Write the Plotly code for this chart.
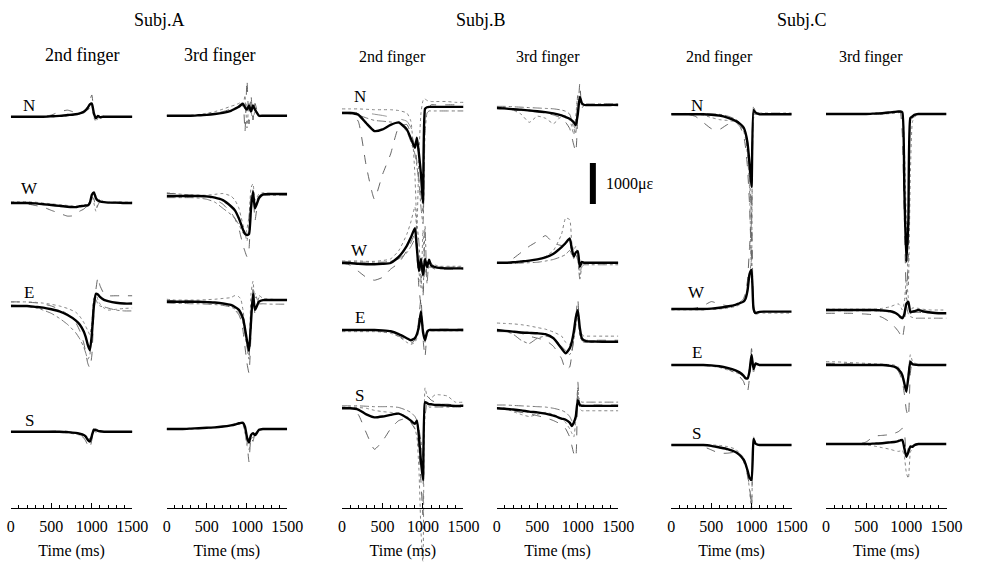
import plotly.graph_objects as go

W_FIG, H_FIG = 987, 562

# ---------------- data (strain in micro-strain, time in ms) ----------------
T = [0, 100, 200, 300, 400, 500, 600, 700, 800, 850, 900, 925, 950, 975,
     1000, 1025, 1050, 1075, 1100, 1150, 1200, 1300, 1400, 1500]

X_TICKS = [0, 500, 1000, 1500]
X_TICK_LABELS = ["0", "500", "1000", "1500"]
SUBJECTS = ["Subj.A", "Subj.B", "Subj.C"]
FINGERS = ["2nd finger", "3rd finger"]
CHANNELS = ["N", "W", "E", "S"]
SCALE_BAR = 1000
SCALE_LABEL = "1000\u03bc\u03b5"
X_TITLE = "Time (ms)"

# Subject A, 2nd finger
A2_N = [0,0,0,0,0,10,20,40,60,80,120,160,220,300,320,80,-40,20,-10,0,0,0,0,0]
A2_N_t1 = [0,0,0,0,10,40,120,160,100,100,130,170,250,400,530,100,-80,40,-40,0,0,0,0,0]
A2_N_t2 = [0,0,0,0,0,0,10,20,40,60,90,120,160,220,260,-20,-120,-40,0,20,0,0,0,0]
A2_W = [0,0,0,-10,-30,-50,-70,-90,-100,-80,-70,-60,-60,0,200,260,120,60,40,20,10,10,0,0]
A2_W_t1 = [0,0,-20,-60,-100,-180,-250,-320,-300,-200,-150,-100,-80,0,150,100,-150,-50,30,0,0,0,0,0]
A2_W_t2 = [30,30,30,20,0,-20,-40,-60,-80,-80,-60,-40,-20,30,200,0,-200,0,100,20,20,20,20,20]
A2_E = [0,0,0,-20,-40,-80,-130,-220,-350,-450,-620,-760,-950,-1080,-700,0,300,280,220,150,120,80,60,60]
A2_E_t1 = [100,100,90,80,50,0,-80,-200,-400,-600,-900,-1150,-1400,-1510,-1200,-200,400,700,500,300,250,250,250,250]
A2_E_t2 = [100,100,100,90,70,40,0,-60,-150,-250,-400,-500,-600,-700,-400,100,300,150,50,-50,-100,-80,-60,-50]
A2_E_t3 = [20,10,0,-40,-100,-180,-300,-450,-650,-800,-1000,-1150,-1300,-1200,-500,200,150,50,0,-20,-50,-100,-120,-120]
A2_S = [0,0,0,0,0,0,0,-10,-30,-50,-80,-120,-200,-240,-100,50,40,20,10,0,0,0,0,0]
A2_S_t1 = [0,0,0,0,0,10,20,10,-40,-80,-150,-230,-330,-400,-200,60,80,20,0,0,0,0,0,0]
A2_S_t2 = [0,0,0,0,0,0,-10,-30,-60,-80,-100,-140,-180,-160,-40,30,-20,0,10,0,0,0,0,0]

# Subject A, 3rd finger
A3_N = [0,0,0,0,10,20,40,70,120,170,220,260,290,200,150,250,100,250,150,0,0,0,0,0]
A3_N_t1 = [0,0,0,0,10,30,60,100,160,200,240,300,300,-390,870,-200,500,-100,300,-30,0,0,0,0]
A3_N_t2 = [0,0,0,10,30,60,100,160,230,260,300,330,200,500,-300,300,100,-100,100,20,0,0,0,0]
A3_W = [0,0,0,0,0,-10,-40,-100,-250,-350,-550,-680,-820,-920,-950,-930,-300,100,-300,-50,40,50,50,50]
A3_W_t1 = [60,60,40,20,0,-20,-80,-200,-400,-550,-800,-1000,-1200,-1350,-1480,-1300,-200,150,-600,0,50,50,50,50]
A3_W_t2 = [80,60,40,30,20,20,40,60,0,-100,-300,-500,-700,-900,-1100,-700,200,300,-100,50,80,60,60,60]
A3_W_t3 = [-40,-40,-40,-40,-50,-80,-150,-300,-450,-550,-700,-800,-900,-950,-800,-500,0,100,-200,0,20,20,20,20]
A3_E = [0,0,0,0,0,-10,-20,-40,-80,-130,-200,-280,-400,-650,-950,-1200,-500,200,-200,0,40,40,40,40]
A3_E_t1 = [30,30,30,20,10,0,-20,-60,-120,-200,-320,-450,-700,-1100,-1500,-1740,-800,300,-300,100,60,40,40,40]
A3_E_t2 = [60,40,40,40,40,50,60,80,100,150,120,50,-200,-600,-1000,-1300,200,500,100,150,80,60,50,50]
A3_E_t3 = [-30,-40,-40,-50,-50,-60,-70,-90,-130,-180,-260,-350,-500,-800,-1100,-1400,-300,-100,200,-50,-50,-60,-60,-60]
A3_S = [0,0,0,10,20,30,40,60,90,110,140,150,150,60,-200,-330,-150,-100,-150,-20,0,0,0,0]
A3_S_t1 = [0,0,0,10,20,30,40,60,80,100,120,140,150,0,-300,-800,-200,-300,-100,0,0,0,0,0]
A3_S_t2 = [-10,-10,-10,0,10,20,30,50,80,100,120,130,100,-100,-400,-500,-250,-200,-200,-50,-10,-10,-10,-10]

# Subject B, 2nd finger
B2_N = [0,0,-40,-250,-440,-400,-290,-230,-400,-620,-850,-600,-1000,-1500,-2200,100,140,150,150,150,150,150,150,150]
B2_N_t1 = [0,0,-200,-1300,-2100,-1500,-1000,-350,-280,-500,-800,-1200,-1600,-2000,-2400,0,100,150,200,200,200,200,200,200]
B2_N_t2 = [100,100,100,90,80,80,80,60,0,-200,-1500,-2800,-1000,0,300,350,300,300,280,280,280,280,260,260]
B2_N_t3 = [0,-20,-50,-120,-180,-200,-220,-250,-450,-700,-1000,-1300,-1700,-2300,-2700,-500,0,50,50,50,50,50,50,50]
B2_N_t4 = [20,20,10,0,-30,-60,-100,-140,-200,-350,-600,-800,-1000,-1500,-2000,0,200,200,180,150,150,150,150,150]
B2_W = [0,0,-20,-30,-30,-20,0,150,420,620,850,350,-200,100,-300,100,-100,80,-60,-100,-120,-130,-130,-130]
B2_W_t1 = [0,-50,-200,-350,-420,-350,-150,0,300,500,700,200,-600,-1000,-800,0,-100,-100,-100,-150,-150,-150,-150,-150]
B2_W_t2 = [50,50,50,40,40,60,100,300,700,1000,1370,600,-200,-600,800,-300,0,0,-50,-50,-80,-80,-80,-80]
B2_W_t3 = [30,30,20,20,20,20,40,100,250,400,600,900,500,-400,-700,900,-500,0,0,-100,-100,-100,-100,-100]
B2_E = [0,0,0,0,0,-10,-30,-100,-200,-250,-200,-100,100,450,-50,-250,-50,0,0,0,0,0,0,0]
B2_E_t1 = [0,0,0,0,-20,-40,-80,-150,-260,-320,-250,-100,300,780,-200,-650,-100,0,20,20,20,20,20,20]
B2_E_t2 = [-40,-40,-40,-40,-40,-50,-80,-160,-300,-350,-300,-200,0,300,100,-300,0,-20,-20,-20,-20,-20,-20,-20]
B2_S = [0,0,-30,-150,-220,-200,-160,-130,-230,-300,-380,-300,-700,-1300,-1750,150,130,100,100,80,80,70,60,60]
B2_S_t1 = [0,0,-150,-600,-1000,-800,-500,-300,-250,-350,-500,-600,-1000,-1800,-2600,300,300,250,200,150,100,100,80,80]
B2_S_t2 = [30,30,20,0,-50,-80,-100,-120,-200,-300,-500,-700,-1500,-3000,-3800,500,300,250,250,330,330,300,150,150]
B2_S_t3 = [60,60,60,50,40,40,40,20,-50,-100,-200,-300,-500,-800,-1200,-200,100,30,30,30,30,30,30,30]

# Subject B, 3rd finger
B3_N = [0,-10,-30,-40,-60,-80,-100,-130,-180,-220,-260,-300,-350,-420,-150,270,120,80,70,70,70,70,75,75]
B3_N_t1 = [0,-20,-40,-60,-80,-100,-130,-170,-250,-350,-500,-700,-900,-1070,-200,610,0,60,70,70,70,70,70,70]
B3_N_t2 = [20,10,-50,-150,-350,-200,-250,-380,-200,-200,-300,-450,-650,-200,300,100,80,80,80,80,80,80,80,80]
B3_N_t3 = [40,40,30,20,10,0,-10,-20,-50,-80,-150,-300,-500,-600,300,200,100,100,100,100,100,100,100,100]
B3_W = [0,0,10,30,50,80,130,220,380,480,590,350,150,250,280,-100,20,0,0,0,0,0,0,0]
B3_W_t1 = [0,0,100,250,400,520,660,480,420,450,500,300,200,300,250,-100,0,0,0,0,0,0,0,0]
B3_W_t2 = [0,0,0,20,40,80,150,300,700,1090,1050,500,300,400,200,-300,-50,0,0,0,0,0,0,0]
B3_W_t3 = [-20,-20,-20,-10,0,10,40,80,150,200,300,200,100,200,50,-400,-100,-50,-50,-50,-50,-50,-50,-50]
B3_E = [0,-20,-40,-60,-70,-80,-100,-200,-450,-570,-450,-300,-50,300,480,50,-200,-250,-270,-280,-280,-285,-285,-285]
B3_E_t1 = [-40,-40,-50,-80,-150,-200,-250,-400,-700,-970,-900,-600,-200,300,750,0,-250,-250,-250,-250,-250,-250,-250,-250]
B3_E_t2 = [170,160,150,130,100,60,20,-50,-150,-300,-350,-250,-100,200,400,0,-100,-150,-150,-150,-150,-150,-150,-150]
B3_E_t3 = [-20,-30,-100,-250,-330,-200,-150,-200,-400,-500,-600,-500,-250,100,300,-150,-250,-300,-300,-300,-300,-300,-300,-300]
B3_S = [0,-10,-30,-50,-80,-100,-130,-180,-250,-280,-350,-430,-350,-200,200,80,60,60,60,60,60,60,60,60]
B3_S_t1 = [0,-20,-60,-100,-130,-180,-230,-300,-400,-500,-700,-900,-1100,-1200,650,100,80,80,80,80,80,80,80,80]
B3_S_t2 = [20,0,-80,-150,-200,-150,-100,-150,-250,-350,-500,-600,-700,-300,500,0,-60,-60,-60,-60,-60,-60,-60,-60]
B3_S_t3 = [80,80,70,60,50,40,30,0,-50,-100,-200,-300,-400,-200,300,200,150,150,150,150,150,150,150,150]

# Subject C, 2nd finger
C2_N = [0,0,0,0,0,-10,-30,-80,-160,-220,-320,-450,-700,-1200,-1770,100,40,20,0,0,0,0,0,0]
C2_N_t1 = [0,0,0,-50,-200,-350,-370,-250,-200,-280,-500,-800,-1300,-2200,-3600,0,0,0,0,0,0,0,0,0]
C2_N_t2 = [0,0,0,0,-20,-80,-130,-150,-180,-250,-400,-600,-1000,-1800,-4100,200,50,0,0,0,0,0,0,0]
C2_N_t3 = [20,20,20,20,20,10,0,-40,-120,-200,-300,-500,-800,-1500,-2500,-100,60,30,30,30,30,30,30,30]
C2_W = [0,0,0,0,0,10,30,60,100,140,180,250,450,850,950,0,-100,-80,-70,-65,-65,-65,-65,-65]
C2_W_t1 = [0,0,0,20,80,180,120,80,100,150,250,400,700,1500,2100,100,-100,-80,-60,-60,-60,-60,-60,-60]
C2_W_t2 = [-20,-20,-20,-20,-20,-10,0,20,60,100,180,300,500,800,1200,-50,-150,-120,-100,-100,-100,-100,-100,-100]
C2_E = [0,0,0,0,0,-10,-30,-70,-130,-180,-260,-320,-330,-150,250,-100,40,20,0,0,0,0,0,0]
C2_E_t1 = [0,0,0,0,0,-20,-50,-100,-200,-280,-400,-550,-650,-300,400,-50,30,0,0,0,0,0,0,0]
C2_E_t2 = [0,0,0,0,-10,-30,-60,-120,-180,-220,-280,-320,-300,-50,150,-200,0,0,0,0,0,0,0,0]
C2_S = [0,0,0,0,0,-20,-60,-100,-170,-240,-350,-460,-620,-800,-850,150,30,10,0,0,0,0,0,0]
C2_S_t1 = [0,0,0,0,-40,-120,-200,-200,-180,-250,-400,-550,-750,-1000,-1500,100,30,0,0,0,0,0,0,0]
C2_S_t2 = [0,0,0,0,0,0,-10,-40,-100,-200,-300,-450,-700,-1100,-1600,200,60,20,0,0,0,0,0,0]

# Subject C, 3rd finger
C3_N = [0,0,0,0,0,0,10,20,40,50,60,60,40,-1800,-3600,-2600,-100,-60,-20,0,0,0,0,0]
C3_N_t1 = [0,0,0,0,0,0,0,10,20,30,40,30,-500,-2500,-4400,-3500,-200,-100,-50,0,0,0,0,0]
C3_N_t2 = [0,0,0,0,0,0,0,0,10,20,30,40,50,-800,-2600,-4200,-1500,-200,-80,0,0,0,0,0]
C3_W = [0,0,0,0,0,0,0,-10,-30,-60,-120,-170,-200,-100,150,200,-50,-40,-30,0,-30,-60,-80,-80]
C3_W_t1 = [-80,-80,-80,-80,-90,-100,-120,-180,-300,-400,-520,-600,-690,-400,300,100,-60,-60,-60,-60,-60,-60,-60,-60]
C3_W_t2 = [20,20,20,20,20,20,20,40,80,120,150,100,0,200,730,300,-100,50,50,40,20,0,0,0]
C3_W_t3 = [-20,-20,-20,-20,-20,-20,-20,-30,-50,-80,-120,-150,-180,-150,100,-100,-160,-180,-200,-200,-200,-200,-200,-200]
C3_E = [0,0,0,0,0,0,0,0,-20,-40,-100,-160,-250,-450,-650,-300,80,20,10,0,0,0,0,0]
C3_E_t1 = [40,40,30,30,20,10,0,-10,-30,-60,-150,-250,-400,-700,-1100,-1260,-200,100,0,0,0,0,0,0]
C3_E_t2 = [80,80,70,60,50,40,30,20,10,0,-50,-100,-200,-400,-700,-200,250,100,50,20,10,10,10,10]
C3_S = [0,0,0,0,0,0,10,20,40,50,70,90,100,-100,-310,-200,-60,-70,-30,0,0,0,0,0]
C3_S_t1 = [0,0,0,0,0,50,190,210,230,260,300,340,380,300,-300,-100,0,0,0,0,0,0,0,0]
C3_S_t2 = [0,0,0,0,0,-20,-50,-90,-130,-160,-180,-170,-150,-300,-700,-840,-200,-100,0,0,0,0,0,0]

# ---------------- layout geometry (pixels) ----------------
K = 1000.0 / 41.0          # micro-strain per pixel (from the 1000 scale bar)
AXIS_Y = 508               # pixel row of the time axes
COL_X = [(7, 131), (166, 289), (345, 469), (503, 627), (681, 804), (839, 962)]
# baseline pixel rows of N, W, E, S in each column
BASE_PX = [
    (116.7, 203, 306, 431.7),
    (115.7, 196, 301.7, 429),
    (113, 263, 330, 408.3),
    (108, 262.7, 330, 408.3),
    (114.3, 309, 365, 445),
    (114, 310, 365, 444),
]

PANELS = [
    [(A2_N, [A2_N_t1, A2_N_t2]), (A2_W, [A2_W_t1, A2_W_t2]),
     (A2_E, [A2_E_t1, A2_E_t2, A2_E_t3]), (A2_S, [A2_S_t1, A2_S_t2])],
    [(A3_N, [A3_N_t1, A3_N_t2]), (A3_W, [A3_W_t1, A3_W_t2, A3_W_t3]),
     (A3_E, [A3_E_t1, A3_E_t2, A3_E_t3]), (A3_S, [A3_S_t1, A3_S_t2])],
    [(B2_N, [B2_N_t1, B2_N_t2, B2_N_t3, B2_N_t4]), (B2_W, [B2_W_t1, B2_W_t2, B2_W_t3]),
     (B2_E, [B2_E_t1, B2_E_t2]), (B2_S, [B2_S_t1, B2_S_t2, B2_S_t3])],
    [(B3_N, [B3_N_t1, B3_N_t2, B3_N_t3]), (B3_W, [B3_W_t1, B3_W_t2, B3_W_t3]),
     (B3_E, [B3_E_t1, B3_E_t2, B3_E_t3]), (B3_S, [B3_S_t1, B3_S_t2, B3_S_t3])],
    [(C2_N, [C2_N_t1, C2_N_t2, C2_N_t3]), (C2_W, [C2_W_t1, C2_W_t2]),
     (C2_E, [C2_E_t1, C2_E_t2]), (C2_S, [C2_S_t1, C2_S_t2])],
    [(C3_N, [C3_N_t1, C3_N_t2]), (C3_W, [C3_W_t1, C3_W_t2, C3_W_t3]),
     (C3_E, [C3_E_t1, C3_E_t2]), (C3_S, [C3_S_t1, C3_S_t2])],
]

TRIAL_STYLES = [("#555555", "dash"), ("#777777", "dot"), ("#666666", "dashdot"), ("#888888", "longdash")]
FONT = "Liberation Serif"


def px_x(p):
    return p / W_FIG


def px_y(p):
    return 1 - p / H_FIG


fig = go.Figure()

for ci, panel in enumerate(PANELS):
    ax = "" if ci == 0 else str(ci + 1)
    for chi, (mean, trials) in enumerate(panel):
        off = (AXIS_Y - BASE_PX[ci][chi]) * K
        for ti, tr in enumerate(trials):
            col, dash = TRIAL_STYLES[ti % len(TRIAL_STYLES)]
            n = min(len(T), len(tr))
            fig.add_trace(go.Scatter(
                x=T[:n], y=[v + off for v in tr[:n]], mode="lines",
                line=dict(color=col, width=0.9, dash=dash, shape="spline", smoothing=0.5),
                xaxis="x" + ax, yaxis="y" + ax, hoverinfo="skip"))
        n = min(len(T), len(mean))
        fig.add_trace(go.Scatter(
            x=T[:n], y=[v + off for v in mean[:n]], mode="lines",
            line=dict(color="black", width=2.4, shape="spline", smoothing=0.5),
            xaxis="x" + ax, yaxis="y" + ax, hoverinfo="skip"))

# scale bar in Subj.B 3rd-finger panel
bar_bottom = (AXIS_Y - 204) * K
fig.add_trace(go.Scatter(x=[1186, 1186], y=[bar_bottom, bar_bottom + SCALE_BAR], mode="lines",
                         line=dict(color="black", width=6), xaxis="x4", yaxis="y4", hoverinfo="skip"))

layout = dict(
    width=W_FIG, height=H_FIG, margin=dict(l=0, r=0, t=0, b=0),
    paper_bgcolor="white", plot_bgcolor="white", showlegend=False,
    font=dict(family=FONT, color="black", size=16),
)
yrange = [(AXIS_Y - H_FIG) * K, AXIS_Y * K]
for ci, (x0, x1) in enumerate(COL_X):
    ax = "" if ci == 0 else str(ci + 1)
    layout["xaxis" + ax] = dict(
        domain=[px_x(x0), px_x(x1)], range=[0, 1500], anchor="free", position=px_y(AXIS_Y),
        showline=True, linecolor="black", linewidth=1, showgrid=False, zeroline=False,
        ticks="inside", ticklen=5, tickwidth=1, tickcolor="black",
        tickmode="array", tickvals=X_TICKS, ticktext=X_TICK_LABELS,
        minor=dict(tickmode="linear", tick0=0, dtick=100, ticks="inside", ticklen=3,
                   tickcolor="black", tickwidth=1, showgrid=False),
        tickfont=dict(family=FONT, size=16, color="black"), ticklabelstandoff=4,
        title=dict(text=X_TITLE, font=dict(family=FONT, size=16, color="black"), standoff=10),
        fixedrange=True,
    )
    layout["yaxis" + ax] = dict(domain=[0, 1], range=yrange, visible=False,
                                anchor="x" + ax, fixedrange=True)

annotations = []


def add_text(text, x, y, size, anchor="center"):
    annotations.append(dict(text=text, x=px_x(x), y=px_y(y), xref="paper", yref="paper",
                            showarrow=False, xanchor=anchor, yanchor="middle",
                            font=dict(family=FONT, size=size, color="black")))


for name, x in zip(SUBJECTS, [159, 487, 815]):
    add_text(name, x, 20, 18)
finger_pos = [(80, 55, 18), (220, 55, 18), (397, 57, 16), (555, 57, 16), (730, 57, 16), (885, 57, 16)]
for i, (x, y, s) in enumerate(finger_pos):
    add_text(FINGERS[i % 2], x, y, s)

label_x = [26, 363, 707]
label_y = [(105, 188, 292, 420), (97, 250, 317, 395), (105, 292, 352, 433)]
for si in range(3):
    for chi, ch in enumerate(CHANNELS):
        add_text(ch, label_x[si], label_y[si][chi], 17)

add_text(SCALE_LABEL, 612, 184, 16, anchor="left")

layout["annotations"] = annotations
fig.update_layout(**layout)
fig.write_html("out.html")
